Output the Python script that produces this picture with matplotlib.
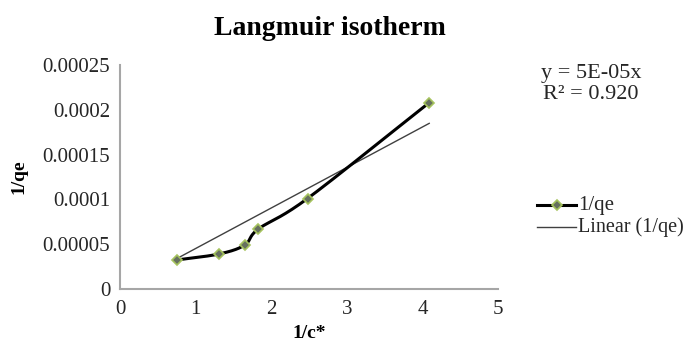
import numpy as np
import matplotlib
matplotlib.use("Agg")
import matplotlib.pyplot as plt

# data
inv_c = [0.75, 1.31, 1.65, 1.83, 2.48, 4.09]
inv_qe = [0.0000324, 0.0000391, 0.0000491, 0.000067, 0.000101, 0.000208]
trend_slope = 4.52e-05   # linear trendline through origin (shown as y = 5E-05x)
r_squared = "0.920"
x_ticks = [0, 1, 2, 3, 4, 5]
y_ticks = [0, 0.00005, 0.0001, 0.00015, 0.0002, 0.00025]
y_tick_labels = ["0", "0.00005", "0.0001", "0.00015", "0.0002", "0.00025"]


def catmull_rom(xs, ys, n=30):
    # smooth line through the points, like the spreadsheet "smoothed line" option
    p = np.column_stack([xs, ys])
    p = np.vstack([p[0] - (p[1] - p[0]), p, p[-1] + (p[-1] - p[-2])])
    out = []
    t = np.linspace(0, 1, n)[:, None]
    for i in range(1, len(p) - 2):
        p0, p1, p2, p3 = p[i - 1], p[i], p[i + 1], p[i + 2]
        seg = 0.5 * ((2 * p1) + (-p0 + p2) * t + (2 * p0 - 5 * p1 + 4 * p2 - p3) * t ** 2
                     + (-p0 + 3 * p1 - 3 * p2 + p3) * t ** 3)
        out.append(seg)
    out = np.vstack(out)
    return out[:, 0], out[:, 1]


plt.rcParams['font.family'] = ['Liberation Serif', 'DejaVu Serif']

fig = plt.figure(figsize=(6.91, 3.47), dpi=100)
ax = fig.add_axes([0.1737, 0.1671, 0.5470, 0.6456])

sx, sy = catmull_rom(inv_c, inv_qe)
ax.plot(sx, sy, color='black', lw=2.2, zorder=3)
ax.plot(inv_c, inv_qe, ls='none', marker='D', ms=5, mfc='#66705f', mec='#a6c35e',
        mew=1.2, zorder=4)

tx = np.array([inv_c[0], inv_c[-1]])
ax.plot(tx, trend_slope * tx, color='#404040', lw=1.0, zorder=2)

ax.set_xlim(0, 5)
ax.set_ylim(0, 0.00025)
ax.set_xticks(x_ticks)
ax.set_yticks(y_ticks)
ax.set_yticklabels(y_tick_labels)
ax.tick_params(length=0, labelsize=15, colors='#262626')
ax.tick_params(axis='x', pad=8)
ax.tick_params(axis='y', pad=7)
for s in ['top', 'right']:
    ax.spines[s].set_visible(False)
for s in ['left', 'bottom']:
    ax.spines[s].set_color('#a6a6a6')
    ax.spines[s].set_linewidth(1.5)

ax.set_xlabel('1/c*', fontsize=14, fontweight='bold', labelpad=4)
ax.set_ylabel('1/qe', fontsize=14, fontweight='bold', labelpad=11)
fig.text(0.478, 0.918, 'Langmuir isotherm', ha='center', va='center',
         fontsize=20, fontweight='bold')

fig.text(0.855, 0.758, 'y = 5E-05x\nR² = ' + r_squared, ha='center', va='center',
         fontsize=16, linespacing=1.15, color='#262626')

# legend drawn by hand on the figure
lx0, lx1, ly1, ly2 = 0.777, 0.834, 0.409, 0.346
fig.add_artist(plt.Line2D([lx0, lx1], [ly1, ly1], color='black', lw=2.2,
                          transform=fig.transFigure))
fig.add_artist(plt.Line2D([(lx0 + lx1) / 2], [ly1], marker='D', ms=5, mfc='#66705f',
                          mec='#a6c35e', mew=1.2, transform=fig.transFigure))
fig.add_artist(plt.Line2D([lx0, lx1], [ly2, ly2], color='#404040', lw=1.0,
                          transform=fig.transFigure))
fig.text(lx1 + 0.002, ly1, '1/qe', va='center', fontsize=15, color='#262626')
fig.text(lx1 + 0.002, ly2, 'Linear (1/qe)', va='center', fontsize=14.5, color='#262626')

fig.savefig('out.png', dpi=100)
